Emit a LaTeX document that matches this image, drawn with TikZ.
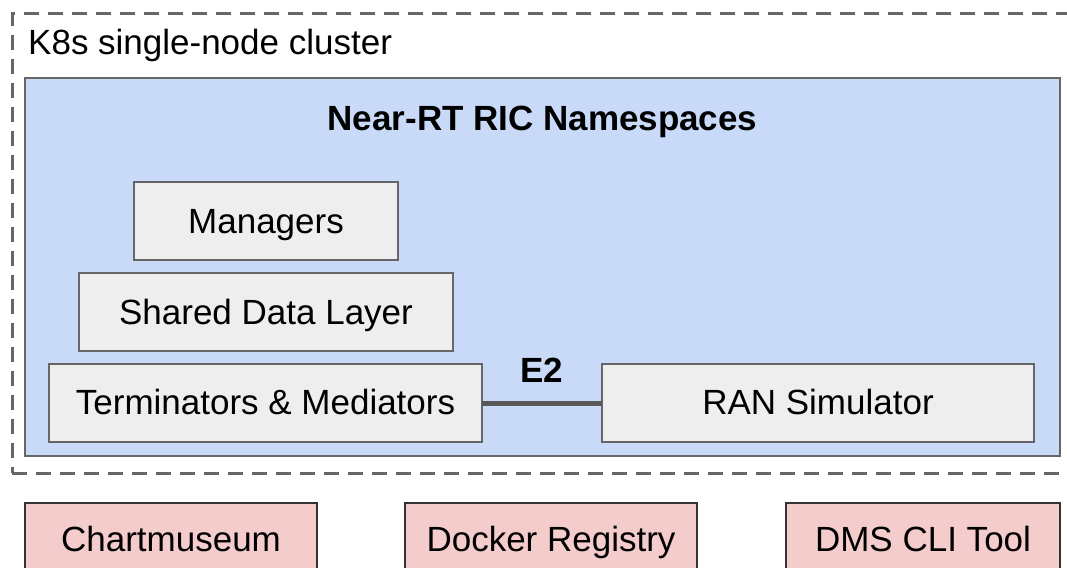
\documentclass[tikz,border=0pt]{standalone}
\usepackage{fontspec}
\setmainfont{Liberation Sans}
\definecolor{nsblue}{HTML}{C9DAF8}
\definecolor{boxgray}{HTML}{EEEEEE}
\definecolor{pinkfill}{HTML}{F4CCCC}
\definecolor{edgegray}{HTML}{666666}
\definecolor{linegray}{HTML}{595959}
\tikzset{
  base/.style={anchor=north west, inner sep=0pt, outer sep=0pt, font=\fontsize{35}{42}\selectfont},
  graybox/.style={base, draw=edgegray, line width=2pt, fill=boxgray},
  pinkbox/.style={base, draw=black!80, line width=1.8pt, fill=pinkfill},
  nsbox/.style={base, draw=edgegray, line width=2pt, fill=nsblue},
  clusterbox/.style={base, draw=edgegray, line width=3pt, dash pattern=on 15pt off 9pt},
  txt/.style={inner sep=0pt, anchor=base, font=\fontsize{35}{42}\selectfont},
  boldtxt/.style={inner sep=0pt, anchor=base, font=\fontsize{35}{42}\selectfont\bfseries},
  e2line/.style={draw=linegray, line width=5pt}
}
\begin{document}
\begin{tikzpicture}[x=1pt,y=-1pt]
\useasboundingbox (0,0) rectangle (1067,567);
\clip (0,0) rectangle (1067,567);
\fill[white] (0,0) rectangle (1067,567);
\node[clusterbox, minimum width=1200pt, minimum height=459pt] (cluster) at (12,14) {};
\node[txt, anchor=base west] (k8s) at (28,55) {K8s single-node cluster};
\node[nsbox, minimum width=1035pt, minimum height=378pt] (ns) at (25,78) {};
\node[boldtxt] (title) at (542.5,130) {Near-RT RIC Namespaces};
\node[graybox, minimum width=264pt, minimum height=78pt] (mgr) at (134,182) {};
\node[txt] at (mgr.center |- 0,233) {Managers};
\node[graybox, minimum width=374pt, minimum height=78pt] (sdl) at (79,273) {};
\node[txt] at (sdl.center |- 0,324) {Shared Data Layer};
\node[graybox, minimum width=433pt, minimum height=78pt] (term) at (49,364) {};
\node[txt] at (term.center |- 0,414) {Terminators \& Mediators};
\node[graybox, minimum width=432pt, minimum height=78pt] (ran) at (602,364) {};
\node[txt] at (ran.center |- 0,414) {RAN Simulator};
\draw[e2line] (term.east) -- (ran.west);
\node[boldtxt] (e2) at (542,382) {E2};
\node[pinkbox, minimum width=292pt, minimum height=100pt] (chart) at (25,503) {};
\node[txt] at (chart.center |- 0,551) {Chartmuseum};
\node[pinkbox, minimum width=292pt, minimum height=100pt] (docker) at (405,503) {};
\node[txt] at (docker.center |- 0,551) {Docker Registry};
\node[pinkbox, minimum width=274pt, minimum height=100pt] (dms) at (786,503) {};
\node[txt] at (dms.center |- 0,551) {DMS CLI Tool};
\end{tikzpicture}
\end{document}
